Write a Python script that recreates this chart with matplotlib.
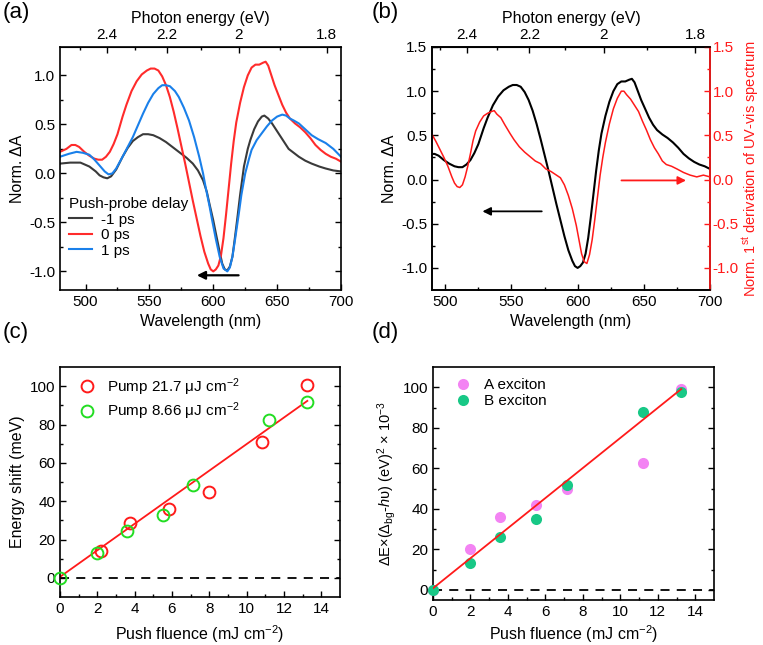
import matplotlib
matplotlib.use("Agg")
import matplotlib.pyplot as plt
import numpy as np

plt.rcParams['font.family'] = ['Liberation Sans', 'DejaVu Sans']
plt.rcParams['mathtext.fontset'] = 'custom'
plt.rcParams['mathtext.rm'] = 'Liberation Sans'
plt.rcParams['mathtext.it'] = 'Liberation Sans:italic'
plt.rcParams['mathtext.bf'] = 'Liberation Sans:bold'
plt.rcParams['font.size'] = 11

TICK = 11
LAB = 11.5

# ---------------- data ----------------
# (a) transient spectra, push-probe delay
wl_m1ps = [480, 488, 496, 503, 508, 511, 514, 517, 520, 524, 529, 533, 537, 541, 545, 549, 553,
           558, 563, 568, 573, 579, 584, 588, 592, 595, 597, 600, 602, 605, 607, 609, 611, 613,
           615, 617, 619, 621, 624, 627, 629, 632, 635, 638, 640, 643, 646, 650, 655, 659, 663,
           667, 672, 677, 683, 688, 694, 700]
dA_m1ps = [0.10, 0.11, 0.11, 0.07, 0.02, -0.02, -0.04, -0.05, -0.03, 0.04, 0.17, 0.26, 0.33,
           0.37, 0.40, 0.40, 0.39, 0.36, 0.32, 0.27, 0.22, 0.16, 0.10, 0.03, -0.07, -0.19, -0.31,
           -0.48, -0.61, -0.80, -0.92, -0.98, -0.99, -0.95, -0.85, -0.65, -0.44, -0.22, 0.07,
           0.25, 0.34, 0.45, 0.53, 0.58, 0.59, 0.56, 0.51, 0.43, 0.33, 0.25, 0.21, 0.17, 0.13,
           0.10, 0.07, 0.05, 0.03, 0.02]

wl_0ps = [480, 485, 489, 492, 495, 499, 503, 507, 510, 513, 516, 519, 522, 525, 529, 532, 536,
          540, 544, 548, 551, 554, 557, 560, 563, 566, 569, 572, 575, 578, 581, 584, 587, 590,
          593, 596, 598, 600, 602, 604, 606, 608, 610, 612, 614, 616, 618, 621, 624, 627, 630,
          633, 636, 639, 641, 643, 645, 648, 651, 654, 657, 660, 664, 668, 672, 676, 680, 684,
          688, 692, 696, 700]
dA_0ps = [0.22, 0.25, 0.29, 0.29, 0.27, 0.22, 0.18, 0.15, 0.14, 0.14, 0.17, 0.22, 0.30, 0.40,
          0.58, 0.70, 0.84, 0.94, 1.01, 1.05, 1.07, 1.07, 1.05, 0.99, 0.90, 0.78, 0.63, 0.46,
          0.28, 0.10, -0.09, -0.28, -0.46, -0.64, -0.80, -0.92, -0.98, -1.0, -0.98, -0.94, -0.84,
          -0.66, -0.42, -0.16, 0.10, 0.33, 0.52, 0.72, 0.88, 1.00, 1.08, 1.11, 1.11, 1.13, 1.14,
          1.10, 1.02, 0.90, 0.80, 0.70, 0.62, 0.56, 0.51, 0.47, 0.42, 0.36, 0.29, 0.24, 0.20,
          0.17, 0.15, 0.12]

wl_1ps = [480, 487, 493, 498, 503, 507, 511, 515, 518, 521, 524, 529, 533, 537, 541, 545, 549,
          553, 557, 560, 563, 566, 570, 573, 577, 581, 585, 589, 592, 594, 597, 599, 602, 605,
          608, 611, 613, 615, 617, 620, 622, 625, 628, 630, 634, 638, 642, 646, 650, 654, 657,
          660, 663, 667, 672, 677, 682, 688, 694, 700]
dA_1ps = [0.17, 0.20, 0.22, 0.21, 0.19, 0.14, 0.08, 0.02, -0.01, 0.00, 0.05, 0.17, 0.27, 0.37,
          0.49, 0.61, 0.72, 0.81, 0.87, 0.90, 0.90, 0.89, 0.84, 0.78, 0.67, 0.54, 0.37, 0.17,
          0.0, -0.14, -0.33, -0.47, -0.67, -0.85, -0.97, -1.0, -0.96, -0.85, -0.68, -0.41, -0.22,
          0.0, 0.15, 0.24, 0.34, 0.41, 0.48, 0.54, 0.58, 0.60, 0.59, 0.56, 0.54, 0.51, 0.45,
          0.39, 0.35, 0.31, 0.25, 0.17]

# (b) first derivative of UV-vis spectrum
wl_deriv = [490, 493, 496, 499, 502, 505, 507, 509, 511, 513, 515, 517, 519, 521, 523, 526, 529,
            532, 535, 537, 539, 542, 545, 549, 552, 556, 560, 564, 568, 572, 576, 580, 584, 587,
            590, 593, 596, 599, 601, 603, 605, 607, 609, 611, 613, 615, 617, 619, 621, 624, 627,
            630, 633, 635, 637, 640, 643, 646, 649, 652, 655, 658, 661, 664, 667, 671, 675, 680,
            685, 690, 695, 700]
deriv = [0.51, 0.43, 0.34, 0.25, 0.15, 0.03, -0.04, -0.08, -0.09, -0.06, 0.03, 0.15, 0.29, 0.44,
         0.55, 0.65, 0.72, 0.75, 0.77, 0.78, 0.74, 0.70, 0.62, 0.52, 0.45, 0.37, 0.31, 0.26, 0.21,
         0.18, 0.12, 0.09, 0.05, 0.02, -0.06, -0.18, -0.33, -0.52, -0.68, -0.84, -0.93, -0.95,
         -0.85, -0.68, -0.45, -0.20, 0.05, 0.25, 0.42, 0.63, 0.80, 0.92, 1.00, 1.00, 0.96, 0.91,
         0.84, 0.77, 0.66, 0.56, 0.45, 0.36, 0.29, 0.21, 0.17, 0.15, 0.12, 0.08, 0.05, 0.03, 0.05,
         0.03]

# (c) energy shift vs push fluence
fl_pump217 = [2.2, 3.75, 5.85, 8.0, 10.8, 13.25]
es_pump217 = [14.0, 28.5, 36.0, 45.0, 71.0, 100.5]
fl_pump866 = [0.0, 2.0, 3.6, 5.5, 7.13, 11.2, 13.25]
es_pump866 = [0.0, 12.7, 24.3, 32.6, 48.6, 82.6, 91.7]
fit_c = (6.93, 0.5)  # slope, intercept

# (d) ΔE×(Δbg - hν)
fl_exc = [0.0, 2.0, 3.6, 5.5, 7.13, 11.2, 13.25]
a_exc = [0.0, 20.0, 36.1, 41.8, 50.0, 62.8, 99.2]
b_exc = [0.0, 13.4, 26.1, 34.9, 52.0, 88.0, 97.9]
fit_d = (7.42, 0.8)

W, H = 763, 645
fig = plt.figure(figsize=(W / 100, H / 100), dpi=100)


def add_ax(l, r, t, b):
    return fig.add_axes([l / W, 1 - b / H, (r - l) / W, (b - t) / H])


def style(ax, top=True, right=True):
    for s in ax.spines.values():
        s.set_linewidth(1.2)
    ax.tick_params(which='both', direction='in', top=top, right=right, labelsize=TICK, width=1.0)
    ax.tick_params(which='major', length=4)
    ax.tick_params(which='minor', length=2.5)


def energy_axis(ax):
    sec = ax.secondary_xaxis('top', functions=(lambda x: 1239.84 / x, lambda x: 1239.84 / x))
    sec.set_xticks([2.4, 2.2, 2.0, 1.8])
    sec.set_xticklabels(['2.4', '2.2', '2', '1.8'])
    sec.set_xticks([2.5, 2.3, 2.1, 1.9], minor=True)
    sec.tick_params(which='both', direction='in', labelsize=TICK, width=1.0)
    sec.tick_params(which='major', length=4)
    sec.tick_params(which='minor', length=2.5)
    sec.set_xlabel('Photon energy (eV)', fontsize=LAB, labelpad=4)
    return sec


# ---------------- (a) ----------------
axa = add_ax(60, 341, 47, 290)
axa.plot(wl_m1ps, dA_m1ps, color='#3a3a3a', lw=1.5, label='-1 ps')
axa.plot(wl_0ps, dA_0ps, color='#ff2b2b', lw=1.5, label='0 ps')
axa.plot(wl_1ps, dA_1ps, color='#1a80ea', lw=1.5, label='1 ps')
axa.set_xlim(480, 700)
axa.set_ylim(-1.19, 1.29)
axa.set_xticks([500, 550, 600, 650, 700])
axa.set_xticks([525, 575, 625, 675], minor=True)
axa.set_yticks([-1.0, -0.5, 0.0, 0.5, 1.0])
axa.set_yticklabels(['-1.0', '-0.5', '0.0', '0.5', '1.0'])
axa.set_yticks([-0.75, -0.25, 0.25, 0.75], minor=True)
style(axa, top=False)
axa.set_xlabel('Wavelength (nm)', fontsize=LAB, labelpad=4)
axa.set_ylabel('Norm. ΔA', fontsize=LAB, labelpad=3)
energy_axis(axa)
axa.annotate('', xy=(585, -1.04), xytext=(622, -1.04),
             arrowprops=dict(arrowstyle='-|>', color='black', lw=1.6, mutation_scale=12))
leg = axa.legend(loc='upper left', bbox_to_anchor=(0.0, 0.42), frameon=False,
                 title='Push-probe delay', fontsize=11, title_fontsize=11,
                 handlelength=1.5, handletextpad=0.6, labelspacing=0.1, alignment='left',
                 borderaxespad=0.2)

# ---------------- (b) ----------------
axb = add_ax(432, 710, 47, 290)
axb.plot(wl_0ps, dA_0ps, color='black', lw=1.5)
axb.set_xlim(490, 700)
axb.set_ylim(-1.25, 1.5)
axb.set_xticks([500, 550, 600, 650, 700])
axb.set_xticks([525, 575, 625, 675], minor=True)
axb.set_yticks([-1.0, -0.5, 0.0, 0.5, 1.0, 1.5])
axb.set_yticklabels(['-1.0', '-0.5', '0.0', '0.5', '1.0', '1.5'])
axb.set_yticks([-0.75, -0.25, 0.25, 0.75, 1.25], minor=True)
style(axb, top=False, right=False)
axb.set_xlabel('Wavelength (nm)', fontsize=LAB, labelpad=4)
axb.set_ylabel('Norm. ΔA', fontsize=LAB, labelpad=3)
energy_axis(axb)
axb2 = axb.twinx()
axb2.plot(wl_deriv, deriv, color='#ff1a1a', lw=1.1)
axb2.set_ylim(-1.25, 1.5)
axb2.set_yticks([-1.0, -0.5, 0.0, 0.5, 1.0, 1.5])
axb2.set_yticklabels(['-1.0', '-0.5', '0.0', '0.5', '1.0', '1.5'])
axb2.set_yticks([-0.75, -0.25, 0.25, 0.75, 1.25], minor=True)
axb2.tick_params(which='both', direction='in', colors='#ff1a1a', labelsize=TICK, width=1.0,
                 pad=2)
axb2.tick_params(which='major', length=4)
axb2.tick_params(which='minor', length=2.5)
for s in axb2.spines.values():
    s.set_linewidth(1.2)
axb2.spines['right'].set_color('#ff1a1a')
axb2.set_ylabel('Norm. 1$^{\\rm st}$ derivation of UV-vis spectrum', color='#ff1a1a',
                fontsize=10.5, labelpad=1)
axb.annotate('', xy=(526, -0.36), xytext=(575, -0.36),
             arrowprops=dict(arrowstyle='-|>', color='black', lw=1.3, mutation_scale=12))
axb2.annotate('', xy=(684, -0.01), xytext=(631, -0.01),
              arrowprops=dict(arrowstyle='-|>', color='#ff1a1a', lw=1.3, mutation_scale=12))

# ---------------- (c) ----------------
axc = add_ax(60, 340, 367, 597)
fx = np.array([0.0, max(fl_pump866)])
axc.plot(fx, fit_c[0] * fx + fit_c[1], color='#ff1a1a', lw=1.3, zorder=2)
axc.axhline(0, color='black', lw=1.3, ls=(0, (5, 4)), zorder=1)
axc.plot(fl_pump217, es_pump217, 'o', mfc='none', mec='#ff1a1a', mew=1.4, ms=8.5,
         label='Pump 21.7 μJ cm$^{-2}$', zorder=3)
axc.plot(fl_pump866, es_pump866, 'o', mfc='none', mec='#22dd22', mew=1.4, ms=8.5,
         label='Pump 8.66 μJ cm$^{-2}$', zorder=3, clip_on=False)
axc.set_xlim(0, 15)
axc.set_ylim(-10, 110)
axc.set_xticks([0, 2, 4, 6, 8, 10, 12, 14])
axc.set_xticks([1, 3, 5, 7, 9, 11, 13], minor=True)
axc.set_yticks([0, 20, 40, 60, 80, 100])
axc.set_yticks([10, 30, 50, 70, 90], minor=True)
style(axc, top=False)
axc.set_xlabel('Push fluence (mJ cm$^{-2}$)', fontsize=LAB, labelpad=5)
axc.set_ylabel('Energy shift (meV)', fontsize=LAB, labelpad=3)
axc.legend(loc='upper left', bbox_to_anchor=(0.02, 1.02), frameon=False, fontsize=11,
           handlelength=1.0, handletextpad=0.8, labelspacing=0.2, numpoints=1)

# ---------------- (d) ----------------
axd = add_ax(433, 714, 367, 600)
axd.axhline(0, color='black', lw=1.3, ls=(0, (5, 4)), zorder=1)
axd.plot(fl_exc, a_exc, 'o', color='#f383f3', ms=8, mec='none', label='A exciton', zorder=3,
         clip_on=False)
axd.plot(fl_exc, b_exc, 'o', color='#18c886', ms=8, mec='none', label='B exciton', zorder=3,
         clip_on=False)
fx2 = np.array([0.0, max(fl_exc)])
axd.plot(fx2, fit_d[0] * fx2 + fit_d[1], color='#ff1a1a', lw=1.3, zorder=4)
axd.set_xlim(0, 15)
axd.set_ylim(-5, 110)
axd.set_xticks([0, 2, 4, 6, 8, 10, 12, 14])
axd.set_xticks([1, 3, 5, 7, 9, 11, 13], minor=True)
axd.set_yticks([0, 20, 40, 60, 80, 100])
axd.set_yticks([10, 30, 50, 70, 90], minor=True)
style(axd, top=False)
axd.set_xlabel('Push fluence (mJ cm$^{-2}$)', fontsize=LAB, labelpad=3)
axd.set_ylabel('ΔE×(Δ$_{\\rm bg}$-$h$υ) (eV)$^{2}$ × 10$^{-3}$', fontsize=10.5, labelpad=3)
axd.legend(loc='upper left', bbox_to_anchor=(0.03, 1.01), frameon=False, fontsize=11,
           handlelength=1.0, handletextpad=0.9, labelspacing=0.1, numpoints=1)

# panel labels
fig.text(3 / W, 1 - 2 / H, '(a)', fontsize=16, va='top', ha='left')
fig.text(372 / W, 1 - 2 / H, '(b)', fontsize=16, va='top', ha='left')
fig.text(3 / W, 1 - 322 / H, '(c)', fontsize=16, va='top', ha='left')
fig.text(372 / W, 1 - 322 / H, '(d)', fontsize=16, va='top', ha='left')

fig.savefig('out.png', dpi=100)
